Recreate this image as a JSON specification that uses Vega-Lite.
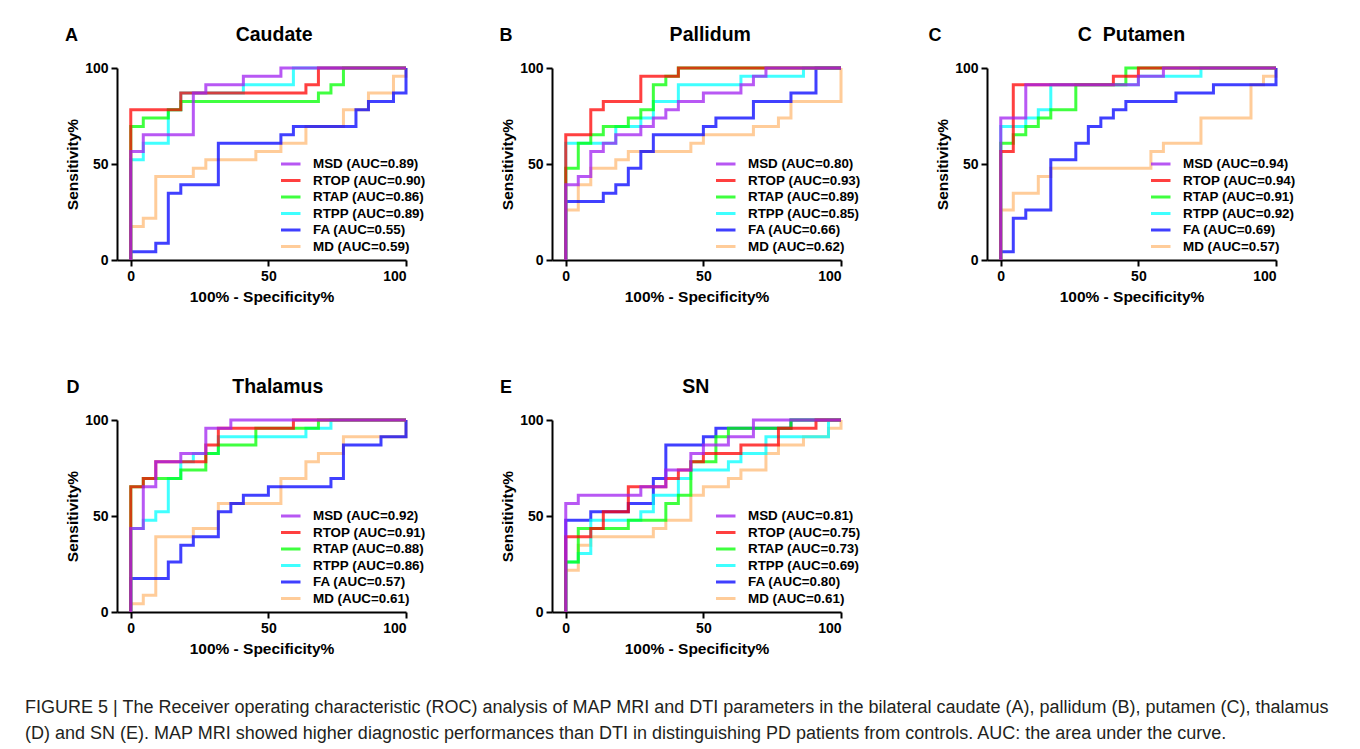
{
"$schema": "https://vega.github.io/schema/vega-lite/v6.json",
"background": "white",
"padding": {"left": 25, "top": 25, "right": 5, "bottom": 5},
"datasets": {"roc": [
{"p":"A","s":"MD (AUC=0.59)","x":0,"y":0},{"p":"A","s":"MD (AUC=0.59)","x":0,"y":17.39},{"p":"A","s":"MD (AUC=0.59)","x":4.55,"y":21.74},{"p":"A","s":"MD (AUC=0.59)","x":9.09,"y":43.48},{"p":"A","s":"MD (AUC=0.59)","x":22.73,"y":47.83},{"p":"A","s":"MD (AUC=0.59)","x":27.27,"y":52.17},{"p":"A","s":"MD (AUC=0.59)","x":45.45,"y":56.52},{"p":"A","s":"MD (AUC=0.59)","x":54.55,"y":60.87},{"p":"A","s":"MD (AUC=0.59)","x":63.64,"y":69.57},{"p":"A","s":"MD (AUC=0.59)","x":77.27,"y":78.26},{"p":"A","s":"MD (AUC=0.59)","x":86.36,"y":86.96},{"p":"A","s":"MD (AUC=0.59)","x":95.45,"y":95.65},{"p":"A","s":"MD (AUC=0.59)","x":100,"y":100},
{"p":"A","s":"FA (AUC=0.55)","x":0,"y":0},{"p":"A","s":"FA (AUC=0.55)","x":0,"y":4.35},{"p":"A","s":"FA (AUC=0.55)","x":9.09,"y":8.7},{"p":"A","s":"FA (AUC=0.55)","x":13.64,"y":34.78},{"p":"A","s":"FA (AUC=0.55)","x":18.18,"y":39.13},{"p":"A","s":"FA (AUC=0.55)","x":31.82,"y":60.87},{"p":"A","s":"FA (AUC=0.55)","x":54.55,"y":65.22},{"p":"A","s":"FA (AUC=0.55)","x":59.09,"y":69.57},{"p":"A","s":"FA (AUC=0.55)","x":81.82,"y":78.26},{"p":"A","s":"FA (AUC=0.55)","x":86.36,"y":82.61},{"p":"A","s":"FA (AUC=0.55)","x":95.45,"y":86.96},{"p":"A","s":"FA (AUC=0.55)","x":100,"y":100},
{"p":"A","s":"RTPP (AUC=0.89)","x":0,"y":0},{"p":"A","s":"RTPP (AUC=0.89)","x":0,"y":52.17},{"p":"A","s":"RTPP (AUC=0.89)","x":4.55,"y":60.87},{"p":"A","s":"RTPP (AUC=0.89)","x":13.64,"y":78.26},{"p":"A","s":"RTPP (AUC=0.89)","x":18.18,"y":86.96},{"p":"A","s":"RTPP (AUC=0.89)","x":40.91,"y":91.3},{"p":"A","s":"RTPP (AUC=0.89)","x":59.09,"y":100},{"p":"A","s":"RTPP (AUC=0.89)","x":100,"y":100},
{"p":"A","s":"RTAP (AUC=0.86)","x":0,"y":0},{"p":"A","s":"RTAP (AUC=0.86)","x":0,"y":69.57},{"p":"A","s":"RTAP (AUC=0.86)","x":4.55,"y":73.91},{"p":"A","s":"RTAP (AUC=0.86)","x":13.64,"y":78.26},{"p":"A","s":"RTAP (AUC=0.86)","x":18.18,"y":82.61},{"p":"A","s":"RTAP (AUC=0.86)","x":68.18,"y":86.96},{"p":"A","s":"RTAP (AUC=0.86)","x":72.73,"y":91.3},{"p":"A","s":"RTAP (AUC=0.86)","x":77.27,"y":100},{"p":"A","s":"RTAP (AUC=0.86)","x":100,"y":100},
{"p":"A","s":"RTOP (AUC=0.90)","x":0,"y":0},{"p":"A","s":"RTOP (AUC=0.90)","x":0,"y":78.26},{"p":"A","s":"RTOP (AUC=0.90)","x":18.18,"y":86.96},{"p":"A","s":"RTOP (AUC=0.90)","x":63.64,"y":91.3},{"p":"A","s":"RTOP (AUC=0.90)","x":68.18,"y":100},{"p":"A","s":"RTOP (AUC=0.90)","x":100,"y":100},
{"p":"A","s":"MSD (AUC=0.89)","x":0,"y":0},{"p":"A","s":"MSD (AUC=0.89)","x":0,"y":56.52},{"p":"A","s":"MSD (AUC=0.89)","x":4.55,"y":65.22},{"p":"A","s":"MSD (AUC=0.89)","x":22.73,"y":86.96},{"p":"A","s":"MSD (AUC=0.89)","x":27.27,"y":91.3},{"p":"A","s":"MSD (AUC=0.89)","x":40.91,"y":95.65},{"p":"A","s":"MSD (AUC=0.89)","x":54.55,"y":100},{"p":"A","s":"MSD (AUC=0.89)","x":100,"y":100},

{"p":"B","s":"MD (AUC=0.62)","x":0,"y":0},{"p":"B","s":"MD (AUC=0.62)","x":0,"y":26.09},{"p":"B","s":"MD (AUC=0.62)","x":4.55,"y":39.13},{"p":"B","s":"MD (AUC=0.62)","x":9.09,"y":47.83},{"p":"B","s":"MD (AUC=0.62)","x":18.18,"y":52.17},{"p":"B","s":"MD (AUC=0.62)","x":22.73,"y":56.52},{"p":"B","s":"MD (AUC=0.62)","x":45.45,"y":60.87},{"p":"B","s":"MD (AUC=0.62)","x":50,"y":65.22},{"p":"B","s":"MD (AUC=0.62)","x":68.18,"y":69.57},{"p":"B","s":"MD (AUC=0.62)","x":77.27,"y":73.91},{"p":"B","s":"MD (AUC=0.62)","x":81.82,"y":82.61},{"p":"B","s":"MD (AUC=0.62)","x":100,"y":100},
{"p":"B","s":"FA (AUC=0.66)","x":0,"y":0},{"p":"B","s":"FA (AUC=0.66)","x":0,"y":30.43},{"p":"B","s":"FA (AUC=0.66)","x":13.64,"y":34.78},{"p":"B","s":"FA (AUC=0.66)","x":18.18,"y":39.13},{"p":"B","s":"FA (AUC=0.66)","x":22.73,"y":47.83},{"p":"B","s":"FA (AUC=0.66)","x":27.27,"y":56.52},{"p":"B","s":"FA (AUC=0.66)","x":31.82,"y":65.22},{"p":"B","s":"FA (AUC=0.66)","x":50,"y":69.57},{"p":"B","s":"FA (AUC=0.66)","x":54.55,"y":73.91},{"p":"B","s":"FA (AUC=0.66)","x":68.18,"y":82.61},{"p":"B","s":"FA (AUC=0.66)","x":81.82,"y":86.96},{"p":"B","s":"FA (AUC=0.66)","x":90.91,"y":100},{"p":"B","s":"FA (AUC=0.66)","x":100,"y":100},
{"p":"B","s":"RTPP (AUC=0.85)","x":0,"y":0},{"p":"B","s":"RTPP (AUC=0.85)","x":0,"y":60.87},{"p":"B","s":"RTPP (AUC=0.85)","x":18.18,"y":69.57},{"p":"B","s":"RTPP (AUC=0.85)","x":27.27,"y":73.91},{"p":"B","s":"RTPP (AUC=0.85)","x":31.82,"y":82.61},{"p":"B","s":"RTPP (AUC=0.85)","x":40.91,"y":91.3},{"p":"B","s":"RTPP (AUC=0.85)","x":63.64,"y":95.65},{"p":"B","s":"RTPP (AUC=0.85)","x":86.36,"y":100},{"p":"B","s":"RTPP (AUC=0.85)","x":100,"y":100},
{"p":"B","s":"RTAP (AUC=0.89)","x":0,"y":0},{"p":"B","s":"RTAP (AUC=0.89)","x":0,"y":47.83},{"p":"B","s":"RTAP (AUC=0.89)","x":4.55,"y":60.87},{"p":"B","s":"RTAP (AUC=0.89)","x":9.09,"y":65.22},{"p":"B","s":"RTAP (AUC=0.89)","x":13.64,"y":69.57},{"p":"B","s":"RTAP (AUC=0.89)","x":22.73,"y":73.91},{"p":"B","s":"RTAP (AUC=0.89)","x":27.27,"y":78.26},{"p":"B","s":"RTAP (AUC=0.89)","x":31.82,"y":91.3},{"p":"B","s":"RTAP (AUC=0.89)","x":36.36,"y":95.65},{"p":"B","s":"RTAP (AUC=0.89)","x":40.91,"y":100},{"p":"B","s":"RTAP (AUC=0.89)","x":100,"y":100},
{"p":"B","s":"RTOP (AUC=0.93)","x":0,"y":0},{"p":"B","s":"RTOP (AUC=0.93)","x":0,"y":65.22},{"p":"B","s":"RTOP (AUC=0.93)","x":9.09,"y":78.26},{"p":"B","s":"RTOP (AUC=0.93)","x":13.64,"y":82.61},{"p":"B","s":"RTOP (AUC=0.93)","x":27.27,"y":95.65},{"p":"B","s":"RTOP (AUC=0.93)","x":40.91,"y":100},{"p":"B","s":"RTOP (AUC=0.93)","x":100,"y":100},
{"p":"B","s":"MSD (AUC=0.80)","x":0,"y":0},{"p":"B","s":"MSD (AUC=0.80)","x":0,"y":39.13},{"p":"B","s":"MSD (AUC=0.80)","x":4.55,"y":43.48},{"p":"B","s":"MSD (AUC=0.80)","x":9.09,"y":56.52},{"p":"B","s":"MSD (AUC=0.80)","x":13.64,"y":60.87},{"p":"B","s":"MSD (AUC=0.80)","x":18.18,"y":65.22},{"p":"B","s":"MSD (AUC=0.80)","x":27.27,"y":69.57},{"p":"B","s":"MSD (AUC=0.80)","x":31.82,"y":73.91},{"p":"B","s":"MSD (AUC=0.80)","x":36.36,"y":78.26},{"p":"B","s":"MSD (AUC=0.80)","x":40.91,"y":82.61},{"p":"B","s":"MSD (AUC=0.80)","x":50,"y":86.96},{"p":"B","s":"MSD (AUC=0.80)","x":63.64,"y":91.3},{"p":"B","s":"MSD (AUC=0.80)","x":68.18,"y":95.65},{"p":"B","s":"MSD (AUC=0.80)","x":72.73,"y":100},{"p":"B","s":"MSD (AUC=0.80)","x":100,"y":100},

{"p":"C","s":"MD (AUC=0.57)","x":0,"y":0},{"p":"C","s":"MD (AUC=0.57)","x":0,"y":26.09},{"p":"C","s":"MD (AUC=0.57)","x":4.55,"y":34.78},{"p":"C","s":"MD (AUC=0.57)","x":13.64,"y":43.48},{"p":"C","s":"MD (AUC=0.57)","x":18.18,"y":47.83},{"p":"C","s":"MD (AUC=0.57)","x":54.55,"y":56.52},{"p":"C","s":"MD (AUC=0.57)","x":59.09,"y":60.87},{"p":"C","s":"MD (AUC=0.57)","x":72.73,"y":73.91},{"p":"C","s":"MD (AUC=0.57)","x":90.91,"y":91.3},{"p":"C","s":"MD (AUC=0.57)","x":95.45,"y":95.65},{"p":"C","s":"MD (AUC=0.57)","x":100,"y":100},
{"p":"C","s":"FA (AUC=0.69)","x":0,"y":0},{"p":"C","s":"FA (AUC=0.69)","x":0,"y":4.35},{"p":"C","s":"FA (AUC=0.69)","x":4.55,"y":21.74},{"p":"C","s":"FA (AUC=0.69)","x":9.09,"y":26.09},{"p":"C","s":"FA (AUC=0.69)","x":18.18,"y":52.17},{"p":"C","s":"FA (AUC=0.69)","x":27.27,"y":60.87},{"p":"C","s":"FA (AUC=0.69)","x":31.82,"y":69.57},{"p":"C","s":"FA (AUC=0.69)","x":36.36,"y":73.91},{"p":"C","s":"FA (AUC=0.69)","x":40.91,"y":78.26},{"p":"C","s":"FA (AUC=0.69)","x":45.45,"y":82.61},{"p":"C","s":"FA (AUC=0.69)","x":63.64,"y":86.96},{"p":"C","s":"FA (AUC=0.69)","x":77.27,"y":91.3},{"p":"C","s":"FA (AUC=0.69)","x":100,"y":100},
{"p":"C","s":"RTPP (AUC=0.92)","x":0,"y":0},{"p":"C","s":"RTPP (AUC=0.92)","x":0,"y":69.57},{"p":"C","s":"RTPP (AUC=0.92)","x":9.09,"y":73.91},{"p":"C","s":"RTPP (AUC=0.92)","x":13.64,"y":78.26},{"p":"C","s":"RTPP (AUC=0.92)","x":18.18,"y":91.3},{"p":"C","s":"RTPP (AUC=0.92)","x":50,"y":95.65},{"p":"C","s":"RTPP (AUC=0.92)","x":72.73,"y":100},{"p":"C","s":"RTPP (AUC=0.92)","x":100,"y":100},
{"p":"C","s":"RTAP (AUC=0.91)","x":0,"y":0},{"p":"C","s":"RTAP (AUC=0.91)","x":0,"y":60.87},{"p":"C","s":"RTAP (AUC=0.91)","x":4.55,"y":65.22},{"p":"C","s":"RTAP (AUC=0.91)","x":9.09,"y":69.57},{"p":"C","s":"RTAP (AUC=0.91)","x":13.64,"y":73.91},{"p":"C","s":"RTAP (AUC=0.91)","x":18.18,"y":78.26},{"p":"C","s":"RTAP (AUC=0.91)","x":27.27,"y":91.3},{"p":"C","s":"RTAP (AUC=0.91)","x":45.45,"y":100},{"p":"C","s":"RTAP (AUC=0.91)","x":100,"y":100},
{"p":"C","s":"RTOP (AUC=0.94)","x":0,"y":0},{"p":"C","s":"RTOP (AUC=0.94)","x":0,"y":56.52},{"p":"C","s":"RTOP (AUC=0.94)","x":4.55,"y":91.3},{"p":"C","s":"RTOP (AUC=0.94)","x":40.91,"y":95.65},{"p":"C","s":"RTOP (AUC=0.94)","x":50,"y":100},{"p":"C","s":"RTOP (AUC=0.94)","x":100,"y":100},
{"p":"C","s":"MSD (AUC=0.94)","x":0,"y":0},{"p":"C","s":"MSD (AUC=0.94)","x":0,"y":73.91},{"p":"C","s":"MSD (AUC=0.94)","x":9.09,"y":91.3},{"p":"C","s":"MSD (AUC=0.94)","x":50,"y":95.65},{"p":"C","s":"MSD (AUC=0.94)","x":59.09,"y":100},{"p":"C","s":"MSD (AUC=0.94)","x":100,"y":100},

{"p":"D","s":"MD (AUC=0.61)","x":0,"y":0},{"p":"D","s":"MD (AUC=0.61)","x":0,"y":4.35},{"p":"D","s":"MD (AUC=0.61)","x":4.55,"y":8.7},{"p":"D","s":"MD (AUC=0.61)","x":9.09,"y":39.13},{"p":"D","s":"MD (AUC=0.61)","x":22.73,"y":43.48},{"p":"D","s":"MD (AUC=0.61)","x":31.82,"y":56.52},{"p":"D","s":"MD (AUC=0.61)","x":54.55,"y":69.57},{"p":"D","s":"MD (AUC=0.61)","x":63.64,"y":78.26},{"p":"D","s":"MD (AUC=0.61)","x":68.18,"y":82.61},{"p":"D","s":"MD (AUC=0.61)","x":77.27,"y":91.3},{"p":"D","s":"MD (AUC=0.61)","x":100,"y":100},
{"p":"D","s":"FA (AUC=0.57)","x":0,"y":0},{"p":"D","s":"FA (AUC=0.57)","x":0,"y":17.39},{"p":"D","s":"FA (AUC=0.57)","x":13.64,"y":26.09},{"p":"D","s":"FA (AUC=0.57)","x":18.18,"y":34.78},{"p":"D","s":"FA (AUC=0.57)","x":22.73,"y":39.13},{"p":"D","s":"FA (AUC=0.57)","x":31.82,"y":52.17},{"p":"D","s":"FA (AUC=0.57)","x":36.36,"y":56.52},{"p":"D","s":"FA (AUC=0.57)","x":40.91,"y":60.87},{"p":"D","s":"FA (AUC=0.57)","x":50,"y":65.22},{"p":"D","s":"FA (AUC=0.57)","x":72.73,"y":69.57},{"p":"D","s":"FA (AUC=0.57)","x":77.27,"y":86.96},{"p":"D","s":"FA (AUC=0.57)","x":90.91,"y":91.3},{"p":"D","s":"FA (AUC=0.57)","x":100,"y":100},
{"p":"D","s":"RTPP (AUC=0.86)","x":0,"y":0},{"p":"D","s":"RTPP (AUC=0.86)","x":0,"y":43.48},{"p":"D","s":"RTPP (AUC=0.86)","x":4.55,"y":47.83},{"p":"D","s":"RTPP (AUC=0.86)","x":9.09,"y":52.17},{"p":"D","s":"RTPP (AUC=0.86)","x":13.64,"y":69.57},{"p":"D","s":"RTPP (AUC=0.86)","x":18.18,"y":78.26},{"p":"D","s":"RTPP (AUC=0.86)","x":22.73,"y":82.61},{"p":"D","s":"RTPP (AUC=0.86)","x":31.82,"y":91.3},{"p":"D","s":"RTPP (AUC=0.86)","x":63.64,"y":95.65},{"p":"D","s":"RTPP (AUC=0.86)","x":72.73,"y":100},{"p":"D","s":"RTPP (AUC=0.86)","x":100,"y":100},
{"p":"D","s":"RTAP (AUC=0.88)","x":0,"y":0},{"p":"D","s":"RTAP (AUC=0.88)","x":0,"y":65.22},{"p":"D","s":"RTAP (AUC=0.88)","x":4.55,"y":69.57},{"p":"D","s":"RTAP (AUC=0.88)","x":18.18,"y":73.91},{"p":"D","s":"RTAP (AUC=0.88)","x":27.27,"y":82.61},{"p":"D","s":"RTAP (AUC=0.88)","x":31.82,"y":86.96},{"p":"D","s":"RTAP (AUC=0.88)","x":45.45,"y":95.65},{"p":"D","s":"RTAP (AUC=0.88)","x":68.18,"y":100},{"p":"D","s":"RTAP (AUC=0.88)","x":100,"y":100},
{"p":"D","s":"RTOP (AUC=0.91)","x":0,"y":0},{"p":"D","s":"RTOP (AUC=0.91)","x":0,"y":65.22},{"p":"D","s":"RTOP (AUC=0.91)","x":4.55,"y":69.57},{"p":"D","s":"RTOP (AUC=0.91)","x":9.09,"y":78.26},{"p":"D","s":"RTOP (AUC=0.91)","x":27.27,"y":86.96},{"p":"D","s":"RTOP (AUC=0.91)","x":31.82,"y":95.65},{"p":"D","s":"RTOP (AUC=0.91)","x":59.09,"y":100},{"p":"D","s":"RTOP (AUC=0.91)","x":100,"y":100},
{"p":"D","s":"MSD (AUC=0.92)","x":0,"y":0},{"p":"D","s":"MSD (AUC=0.92)","x":0,"y":43.48},{"p":"D","s":"MSD (AUC=0.92)","x":4.55,"y":65.22},{"p":"D","s":"MSD (AUC=0.92)","x":9.09,"y":78.26},{"p":"D","s":"MSD (AUC=0.92)","x":18.18,"y":82.61},{"p":"D","s":"MSD (AUC=0.92)","x":27.27,"y":95.65},{"p":"D","s":"MSD (AUC=0.92)","x":36.36,"y":100},{"p":"D","s":"MSD (AUC=0.92)","x":100,"y":100},

{"p":"E","s":"MD (AUC=0.61)","x":0,"y":0},{"p":"E","s":"MD (AUC=0.61)","x":0,"y":21.74},{"p":"E","s":"MD (AUC=0.61)","x":4.55,"y":34.78},{"p":"E","s":"MD (AUC=0.61)","x":9.09,"y":39.13},{"p":"E","s":"MD (AUC=0.61)","x":31.82,"y":43.48},{"p":"E","s":"MD (AUC=0.61)","x":36.36,"y":47.83},{"p":"E","s":"MD (AUC=0.61)","x":45.45,"y":60.87},{"p":"E","s":"MD (AUC=0.61)","x":50,"y":65.22},{"p":"E","s":"MD (AUC=0.61)","x":59.09,"y":69.57},{"p":"E","s":"MD (AUC=0.61)","x":63.64,"y":73.91},{"p":"E","s":"MD (AUC=0.61)","x":72.73,"y":82.61},{"p":"E","s":"MD (AUC=0.61)","x":77.27,"y":86.96},{"p":"E","s":"MD (AUC=0.61)","x":86.36,"y":91.3},{"p":"E","s":"MD (AUC=0.61)","x":95.45,"y":95.65},{"p":"E","s":"MD (AUC=0.61)","x":100,"y":100},
{"p":"E","s":"FA (AUC=0.80)","x":0,"y":0},{"p":"E","s":"FA (AUC=0.80)","x":0,"y":47.83},{"p":"E","s":"FA (AUC=0.80)","x":9.09,"y":52.17},{"p":"E","s":"FA (AUC=0.80)","x":22.73,"y":56.52},{"p":"E","s":"FA (AUC=0.80)","x":31.82,"y":69.57},{"p":"E","s":"FA (AUC=0.80)","x":36.36,"y":86.96},{"p":"E","s":"FA (AUC=0.80)","x":50,"y":91.3},{"p":"E","s":"FA (AUC=0.80)","x":54.55,"y":95.65},{"p":"E","s":"FA (AUC=0.80)","x":81.82,"y":100},{"p":"E","s":"FA (AUC=0.80)","x":100,"y":100},
{"p":"E","s":"RTPP (AUC=0.69)","x":0,"y":0},{"p":"E","s":"RTPP (AUC=0.69)","x":0,"y":26.09},{"p":"E","s":"RTPP (AUC=0.69)","x":4.55,"y":30.43},{"p":"E","s":"RTPP (AUC=0.69)","x":9.09,"y":47.83},{"p":"E","s":"RTPP (AUC=0.69)","x":27.27,"y":52.17},{"p":"E","s":"RTPP (AUC=0.69)","x":31.82,"y":60.87},{"p":"E","s":"RTPP (AUC=0.69)","x":40.91,"y":69.57},{"p":"E","s":"RTPP (AUC=0.69)","x":45.45,"y":73.91},{"p":"E","s":"RTPP (AUC=0.69)","x":59.09,"y":78.26},{"p":"E","s":"RTPP (AUC=0.69)","x":63.64,"y":82.61},{"p":"E","s":"RTPP (AUC=0.69)","x":72.73,"y":91.3},{"p":"E","s":"RTPP (AUC=0.69)","x":95.45,"y":100},{"p":"E","s":"RTPP (AUC=0.69)","x":100,"y":100},
{"p":"E","s":"RTAP (AUC=0.73)","x":0,"y":0},{"p":"E","s":"RTAP (AUC=0.73)","x":0,"y":26.09},{"p":"E","s":"RTAP (AUC=0.73)","x":4.55,"y":43.48},{"p":"E","s":"RTAP (AUC=0.73)","x":22.73,"y":47.83},{"p":"E","s":"RTAP (AUC=0.73)","x":36.36,"y":56.52},{"p":"E","s":"RTAP (AUC=0.73)","x":40.91,"y":60.87},{"p":"E","s":"RTAP (AUC=0.73)","x":45.45,"y":78.26},{"p":"E","s":"RTAP (AUC=0.73)","x":54.55,"y":91.3},{"p":"E","s":"RTAP (AUC=0.73)","x":59.09,"y":95.65},{"p":"E","s":"RTAP (AUC=0.73)","x":81.82,"y":100},{"p":"E","s":"RTAP (AUC=0.73)","x":100,"y":100},
{"p":"E","s":"RTOP (AUC=0.75)","x":0,"y":0},{"p":"E","s":"RTOP (AUC=0.75)","x":0,"y":39.13},{"p":"E","s":"RTOP (AUC=0.75)","x":9.09,"y":43.48},{"p":"E","s":"RTOP (AUC=0.75)","x":13.64,"y":52.17},{"p":"E","s":"RTOP (AUC=0.75)","x":22.73,"y":65.22},{"p":"E","s":"RTOP (AUC=0.75)","x":36.36,"y":69.57},{"p":"E","s":"RTOP (AUC=0.75)","x":40.91,"y":73.91},{"p":"E","s":"RTOP (AUC=0.75)","x":45.45,"y":78.26},{"p":"E","s":"RTOP (AUC=0.75)","x":50,"y":82.61},{"p":"E","s":"RTOP (AUC=0.75)","x":63.64,"y":86.96},{"p":"E","s":"RTOP (AUC=0.75)","x":77.27,"y":95.65},{"p":"E","s":"RTOP (AUC=0.75)","x":90.91,"y":100},{"p":"E","s":"RTOP (AUC=0.75)","x":100,"y":100},
{"p":"E","s":"MSD (AUC=0.81)","x":0,"y":0},{"p":"E","s":"MSD (AUC=0.81)","x":0,"y":56.52},{"p":"E","s":"MSD (AUC=0.81)","x":4.55,"y":60.87},{"p":"E","s":"MSD (AUC=0.81)","x":27.27,"y":65.22},{"p":"E","s":"MSD (AUC=0.81)","x":36.36,"y":73.91},{"p":"E","s":"MSD (AUC=0.81)","x":45.45,"y":82.61},{"p":"E","s":"MSD (AUC=0.81)","x":50,"y":86.96},{"p":"E","s":"MSD (AUC=0.81)","x":59.09,"y":91.3},{"p":"E","s":"MSD (AUC=0.81)","x":68.18,"y":100},{"p":"E","s":"MSD (AUC=0.81)","x":100,"y":100}
]},
"data": {"name": "roc"},
"columns": 3,
"spacing": {"row": 160, "column": 146},
"bounds": "flush",
"resolve": {"scale": {"color": "independent"}, "legend": {"color": "independent"}},
"title": {
  "text": ["FIGURE 5 | The Receiver operating characteristic (ROC) analysis of MAP MRI and DTI parameters in the bilateral caudate (A), pallidum (B), putamen (C), thalamus", "(D) and SN (E). MAP MRI showed higher diagnostic performances than DTI in distinguishing PD patients from controls. AUC: the area under the curve."],
  "orient": "bottom", "anchor": "start", "frame": "bounds",
  "font": "Liberation Sans", "fontSize": 18, "fontWeight": "normal", "color": "#231f20",
  "lineHeight": 26, "offset": 42, "dx": -40
},
"concat": [
{"width": 289, "height": 192, "layer": [
 {"transform": [{"filter": "datum.p === 'A'"}],
  "mark": {"type": "line", "interpolate": "step-after", "strokeWidth": 3, "opacity": 0.75},
  "encoding": {
   "x": {"field": "x", "type": "quantitative", "scale": {"domain": [-5, 100], "nice": false, "zero": false}, "axis": {"values": [0, 50, 100], "title": "100% - Specificity%"}},
   "y": {"field": "y", "type": "quantitative", "scale": {"domain": [0, 100], "nice": false}, "axis": {"values": [0, 50, 100], "title": "Sensitivity%"}},
   "color": {"field": "s", "type": "nominal", "scale": {"domain": ["MSD (AUC=0.89)", "RTOP (AUC=0.90)", "RTAP (AUC=0.86)", "RTPP (AUC=0.89)", "FA (AUC=0.55)", "MD (AUC=0.59)"], "range": ["#A020F0", "#FF0000", "#00FF00", "#00FFFF", "#0000FF", "#FFBB77"]}, "legend": {"orient": "none", "legendX": 165.75, "legendY": 88, "labelFontSize": 13.4, "rowPadding": 1.5}},
   "order": [{"field": "x"}, {"field": "y"}]}},
 {"data": {"values": [{"t": "A"}]}, "mark": {"type": "text", "font": "Liberation Sans", "fontSize": 18, "fontWeight": "bold", "baseline": "alphabetic", "align": "center", "color": "black"},
  "encoding": {"x": {"datum": -21.5}, "y": {"datum": 114.06}, "text": {"field": "t"}}},
 {"data": {"values": [{"t": "Caudate"}]}, "mark": {"type": "text", "font": "Liberation Sans", "fontSize": 19.5, "fontWeight": "bold", "baseline": "alphabetic", "align": "center", "color": "black"},
  "encoding": {"x": {"datum": 52.1}, "y": {"datum": 114.06}, "text": {"field": "t"}}}
]},
{"width": 289, "height": 192, "layer": [
 {"transform": [{"filter": "datum.p === 'B'"}],
  "mark": {"type": "line", "interpolate": "step-after", "strokeWidth": 3, "opacity": 0.75},
  "encoding": {
   "x": {"field": "x", "type": "quantitative", "scale": {"domain": [-5, 100], "nice": false, "zero": false}, "axis": {"values": [0, 50, 100], "title": "100% - Specificity%"}},
   "y": {"field": "y", "type": "quantitative", "scale": {"domain": [0, 100], "nice": false}, "axis": {"values": [0, 50, 100], "title": "Sensitivity%"}},
   "color": {"field": "s", "type": "nominal", "scale": {"domain": ["MSD (AUC=0.80)", "RTOP (AUC=0.93)", "RTAP (AUC=0.89)", "RTPP (AUC=0.85)", "FA (AUC=0.66)", "MD (AUC=0.62)"], "range": ["#A020F0", "#FF0000", "#00FF00", "#00FFFF", "#0000FF", "#FFBB77"]}, "legend": {"orient": "none", "legendX": 165.75, "legendY": 88, "labelFontSize": 13.4, "rowPadding": 1.5}},
   "order": [{"field": "x"}, {"field": "y"}]}},
 {"data": {"values": [{"t": "B"}]}, "mark": {"type": "text", "font": "Liberation Sans", "fontSize": 18, "fontWeight": "bold", "baseline": "alphabetic", "align": "center", "color": "black"},
  "encoding": {"x": {"datum": -21.7}, "y": {"datum": 114.06}, "text": {"field": "t"}}},
 {"data": {"values": [{"t": "Pallidum"}]}, "mark": {"type": "text", "font": "Liberation Sans", "fontSize": 19.5, "fontWeight": "bold", "baseline": "alphabetic", "align": "center", "color": "black"},
  "encoding": {"x": {"datum": 52.5}, "y": {"datum": 114.06}, "text": {"field": "t"}}}
]},
{"width": 289, "height": 192, "layer": [
 {"transform": [{"filter": "datum.p === 'C'"}],
  "mark": {"type": "line", "interpolate": "step-after", "strokeWidth": 3, "opacity": 0.75},
  "encoding": {
   "x": {"field": "x", "type": "quantitative", "scale": {"domain": [-5, 100], "nice": false, "zero": false}, "axis": {"values": [0, 50, 100], "title": "100% - Specificity%"}},
   "y": {"field": "y", "type": "quantitative", "scale": {"domain": [0, 100], "nice": false}, "axis": {"values": [0, 50, 100], "title": "Sensitivity%"}},
   "color": {"field": "s", "type": "nominal", "scale": {"domain": ["MSD (AUC=0.94)", "RTOP (AUC=0.94)", "RTAP (AUC=0.91)", "RTPP (AUC=0.92)", "FA (AUC=0.69)", "MD (AUC=0.57)"], "range": ["#A020F0", "#FF0000", "#00FF00", "#00FFFF", "#0000FF", "#FFBB77"]}, "legend": {"orient": "none", "legendX": 165.75, "legendY": 88, "labelFontSize": 13.4, "rowPadding": 1.5}},
   "order": [{"field": "x"}, {"field": "y"}]}},
 {"data": {"values": [{"t": "C"}]}, "mark": {"type": "text", "font": "Liberation Sans", "fontSize": 18, "fontWeight": "bold", "baseline": "alphabetic", "align": "center", "color": "black"},
  "encoding": {"x": {"datum": -23.9}, "y": {"datum": 114.06}, "text": {"field": "t"}}},
 {"data": {"values": [{"t": "C\u00a0 Putamen"}]}, "mark": {"type": "text", "font": "Liberation Sans", "fontSize": 19.5, "fontWeight": "bold", "baseline": "alphabetic", "align": "center", "color": "black"},
  "encoding": {"x": {"datum": 47.5}, "y": {"datum": 114.06}, "text": {"field": "t"}}}
]},
{"width": 289, "height": 192, "layer": [
 {"transform": [{"filter": "datum.p === 'D'"}],
  "mark": {"type": "line", "interpolate": "step-after", "strokeWidth": 3, "opacity": 0.75},
  "encoding": {
   "x": {"field": "x", "type": "quantitative", "scale": {"domain": [-5, 100], "nice": false, "zero": false}, "axis": {"values": [0, 50, 100], "title": "100% - Specificity%"}},
   "y": {"field": "y", "type": "quantitative", "scale": {"domain": [0, 100], "nice": false}, "axis": {"values": [0, 50, 100], "title": "Sensitivity%"}},
   "color": {"field": "s", "type": "nominal", "scale": {"domain": ["MSD (AUC=0.92)", "RTOP (AUC=0.91)", "RTAP (AUC=0.88)", "RTPP (AUC=0.86)", "FA (AUC=0.57)", "MD (AUC=0.61)"], "range": ["#A020F0", "#FF0000", "#00FF00", "#00FFFF", "#0000FF", "#FFBB77"]}, "legend": {"orient": "none", "legendX": 165.75, "legendY": 88, "labelFontSize": 13.4, "rowPadding": 1.5}},
   "order": [{"field": "x"}, {"field": "y"}]}},
 {"data": {"values": [{"t": "D"}]}, "mark": {"type": "text", "font": "Liberation Sans", "fontSize": 18, "fontWeight": "bold", "baseline": "alphabetic", "align": "center", "color": "black"},
  "encoding": {"x": {"datum": -21}, "y": {"datum": 114.06}, "text": {"field": "t"}}},
 {"data": {"values": [{"t": "Thalamus"}]}, "mark": {"type": "text", "font": "Liberation Sans", "fontSize": 19.5, "fontWeight": "bold", "baseline": "alphabetic", "align": "center", "color": "black"},
  "encoding": {"x": {"datum": 53.4}, "y": {"datum": 114.06}, "text": {"field": "t"}}}
]},
{"width": 289, "height": 192, "layer": [
 {"transform": [{"filter": "datum.p === 'E'"}],
  "mark": {"type": "line", "interpolate": "step-after", "strokeWidth": 3, "opacity": 0.75},
  "encoding": {
   "x": {"field": "x", "type": "quantitative", "scale": {"domain": [-5, 100], "nice": false, "zero": false}, "axis": {"values": [0, 50, 100], "title": "100% - Specificity%"}},
   "y": {"field": "y", "type": "quantitative", "scale": {"domain": [0, 100], "nice": false}, "axis": {"values": [0, 50, 100], "title": "Sensitivity%"}},
   "color": {"field": "s", "type": "nominal", "scale": {"domain": ["MSD (AUC=0.81)", "RTOP (AUC=0.75)", "RTAP (AUC=0.73)", "RTPP (AUC=0.69)", "FA (AUC=0.80)", "MD (AUC=0.61)"], "range": ["#A020F0", "#FF0000", "#00FF00", "#00FFFF", "#0000FF", "#FFBB77"]}, "legend": {"orient": "none", "legendX": 165.75, "legendY": 88, "labelFontSize": 13.4, "rowPadding": 1.5}},
   "order": [{"field": "x"}, {"field": "y"}]}},
 {"data": {"values": [{"t": "E"}]}, "mark": {"type": "text", "font": "Liberation Sans", "fontSize": 18, "fontWeight": "bold", "baseline": "alphabetic", "align": "center", "color": "black"},
  "encoding": {"x": {"datum": -21.7}, "y": {"datum": 114.06}, "text": {"field": "t"}}},
 {"data": {"values": [{"t": "SN"}]}, "mark": {"type": "text", "font": "Liberation Sans", "fontSize": 19.5, "fontWeight": "bold", "baseline": "alphabetic", "align": "center", "color": "black"},
  "encoding": {"x": {"datum": 47.2}, "y": {"datum": 114.06}, "text": {"field": "t"}}}
]}
],
"config": {
  "view": {"stroke": null},
  "axis": {"grid": false, "domainColor": "black", "domainWidth": 2, "tickColor": "black", "tickWidth": 2, "tickSize": 6, "labelFont": "Liberation Sans", "labelFontSize": 14, "labelFontWeight": "bold", "labelColor": "black", "labelPadding": 3, "titleFont": "Liberation Sans", "titleFontSize": 15.5, "titleFontWeight": "bold", "titleColor": "black"},
  "axisX": {"titlePadding": 6},
  "axisY": {"titlePadding": 4},
  "legend": {"title": null, "padding": 0, "labelFont": "Liberation Sans", "labelFontSize": 13.4, "labelFontWeight": "bold", "labelColor": "black", "symbolType": "M-1.5,0H1.5", "symbolSize": 169, "symbolStrokeWidth": 3, "symbolOpacity": 0.75, "rowPadding": 1.5, "labelOffset": 14.25}
}
}
